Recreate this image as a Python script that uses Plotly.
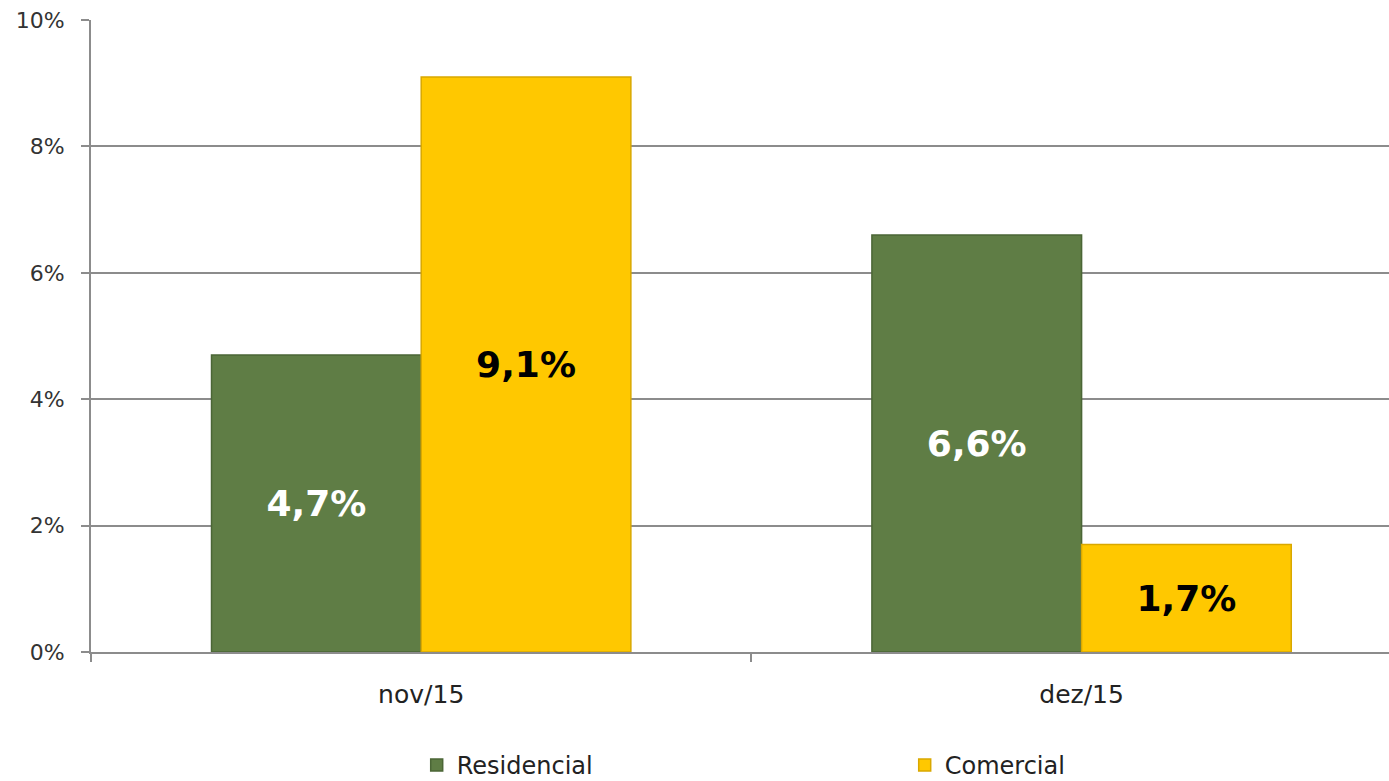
import plotly.graph_objects as go

# Monthly growth by customer class
months = ["nov/15", "dez/15"]
residencial = [4.7, 6.6]
comercial = [9.1, 1.7]
y_ticks = [0, 2, 4, 6, 8, 10]
y_tick_text = [f"{v}%" for v in y_ticks]

GREEN = "#5f7d45"
YELLOW = "#ffc800"
GRID = "#8c8c8c"
FONT = "DejaVu Sans"


def pct_label(v):
    return f"{v:.1f}%".replace(".", ",")


x_pos = list(range(len(months)))

fig = go.Figure()
fig.add_trace(go.Bar(
    name="Residencial",
    x=x_pos,
    y=residencial,
    marker=dict(color=GREEN, line=dict(color="#4b6636", width=1.5)),
    text=[pct_label(v) for v in residencial],
    textposition="inside",
    insidetextanchor="middle",
    textangle=0,
    textfont=dict(family=FONT, size=36, color="white", weight="bold"),
))
fig.add_trace(go.Bar(
    name="Comercial",
    x=x_pos,
    y=comercial,
    marker=dict(color=YELLOW, line=dict(color="#d9a800", width=1.5)),
    text=[pct_label(v) for v in comercial],
    textposition="inside",
    insidetextanchor="middle",
    textangle=0,
    textfont=dict(family=FONT, size=36, color="black", weight="bold"),
))

fig.update_layout(
    width=1389,
    height=781,
    margin=dict(l=91, r=0, t=20, b=129),
    paper_bgcolor="white",
    plot_bgcolor="white",
    barmode="group",
    bargap=0.365,
    bargroupgap=0,
    showlegend=True,
    legend=dict(
        orientation="h",
        xref="container",
        yref="container",
        x=0.3,
        y=0.02,
        xanchor="left",
        yanchor="middle",
        entrywidth=443,
        entrywidthmode="pixels",
        font=dict(family=FONT, size=24, color="#222222"),
        bgcolor="rgba(0,0,0,0)",
    ),
    xaxis=dict(
        range=[-0.5, 1.4655],
        tickmode="array",
        tickvals=x_pos,
        ticktext=months,
        ticks="",
        ticklabelstandoff=19,
        tickfont=dict(family=FONT, size=25, color="#222222"),
        showline=True,
        linecolor=GRID,
        linewidth=2,
        showgrid=False,
        zeroline=False,
        fixedrange=True,
        minor=dict(
            tickmode="array",
            tickvals=[-0.5, 0.5, 1.5],
            ticks="outside",
            ticklen=8,
            tickwidth=1.5,
            tickcolor=GRID,
            showgrid=False,
        ),
    ),
    yaxis=dict(
        range=[0, 10],
        tickmode="array",
        tickvals=y_ticks,
        ticktext=y_tick_text,
        ticks="outside",
        ticklen=8,
        tickwidth=1.5,
        tickcolor=GRID,
        ticklabelstandoff=12,
        tickfont=dict(family=FONT, size=22, color="#333333"),
        showline=True,
        linecolor=GRID,
        linewidth=2,
        showgrid=True,
        gridcolor=GRID,
        gridwidth=1.5,
        zeroline=False,
        fixedrange=True,
    ),
)

fig.write_html("out.html")
